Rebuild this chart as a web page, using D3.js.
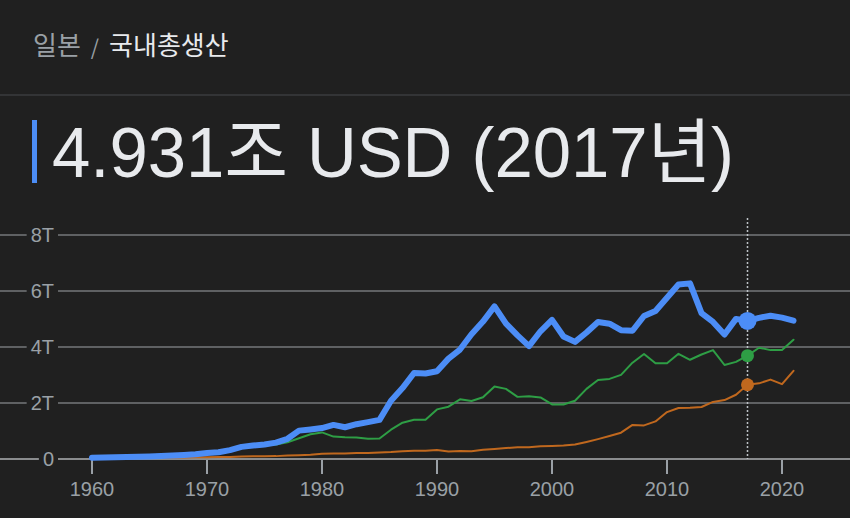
<!DOCTYPE html>
<html><head><meta charset="utf-8">
<script src="https://cdn.jsdelivr.net/npm/d3@7"></script>
<style>
html,body{margin:0;padding:0;background:#202020;}
svg{display:block;}
</style></head>
<body>
<svg id="c" width="850" height="518"></svg>
<script>
// ---- data (trillion USD) ----
const years = d3.range(1960, 2022);
const japan = [0.0443,0.0539,0.0608,0.0695,0.0818,0.0910,0.1056,0.1237,0.1469,0.1721,
0.2128,0.2404,0.3181,0.4326,0.4798,0.5210,0.5860,0.7214,1.0136,1.0553,
1.1054,1.2180,1.1348,1.2435,1.3183,1.3989,2.0785,2.5324,3.0719,3.0542,
3.1328,3.5842,3.9088,4.4545,4.9070,5.4492,4.8331,4.4146,4.0327,4.5621,
4.9683,4.3745,4.1827,4.5196,4.8932,4.8314,4.6014,4.5794,5.1061,5.2891,
5.7591,6.2333,6.2722,5.2123,4.8965,4.4449,5.0037,4.9310,5.0409,5.1179,
5.0501,4.9409];
const germanyYears = d3.range(1970, 2022);
const germany = [0.2151,0.2492,0.2997,0.3984,0.4454,0.4885,0.5175,0.5995,0.7400,0.8818,
0.9501,0.8003,0.7767,0.7706,0.7253,0.7325,1.0464,1.2976,1.4014,1.3983,
1.7716,1.8687,2.1316,2.0713,2.2059,2.5918,2.5037,2.2188,2.2436,2.1990,
1.9480,1.9454,2.0788,2.5054,2.8191,2.8614,3.0026,3.4399,3.7524,3.4183,
3.4171,3.7577,3.5440,3.7330,3.8898,3.3571,3.4690,3.6903,3.9744,3.8887,
3.8894,4.2599];
const india = [0.0370,0.0392,0.0422,0.0484,0.0565,0.0590,0.0458,0.0500,0.0531,0.0584,
0.0625,0.0673,0.0710,0.0851,0.0995,0.0987,0.1027,0.1217,0.1377,0.1529,
0.1862,0.1934,0.2005,0.2183,0.2124,0.2326,0.2485,0.2794,0.2969,0.2960,
0.3206,0.2703,0.2882,0.2790,0.3276,0.3602,0.3929,0.4159,0.4213,0.4589,
0.4683,0.4854,0.5149,0.6075,0.7090,0.8201,0.9403,1.2167,1.1990,1.3419,
1.6756,1.8230,1.8277,1.8567,2.0391,2.1036,2.2948,2.6515,2.7023,2.8356,
2.6718,3.1503];
const yTicks = [0, 2, 4, 6, 8];
const yTickLabels = ["0", "2T", "4T", "6T", "8T"];
const xTicks = [1960, 1970, 1980, 1990, 2000, 2010, 2020];
const highlightYear = 2017;
const breadcrumb = ["일본", "/", "국내총생산"];
const headline = "4.931조 USD (2017년)";

// ---- drawing ----
const svg = d3.select("#c");
const W = 850, H = 518;
const BG = "#202020";
const x = d3.scaleLinear().domain([1960, 2020]).range([92, 782]);
const y = d3.scaleLinear().domain([0, 8]).range([459, 235]);

// header
const hdr = svg.append("text").attr("x", 33).attr("y", 55)
  .attr("font-family", "'Noto Sans CJK KR', 'Noto Sans', sans-serif")
  .attr("font-size", 26);
hdr.append("tspan").attr("fill", "#9aa0a6").text(breadcrumb[0]);
hdr.append("tspan").attr("fill", "#9aa0a6").attr("dx", 10).attr("font-size", 21).text(breadcrumb[1]);
hdr.append("tspan").attr("fill", "#e8eaed").attr("dx", 10).text(breadcrumb[2]);

svg.append("rect").attr("x", 0).attr("y", 94).attr("width", W).attr("height", 2).attr("fill", "#333436");

// headline
svg.append("rect").attr("x", 32).attr("y", 120).attr("width", 5).attr("height", 63).attr("fill", "#4c8df6");
svg.append("text").attr("x", 52).attr("y", 177)
  .attr("font-family", "'Liberation Sans', Arial, 'Noto Sans CJK KR', sans-serif")
  .attr("font-size", 71).attr("fill", "#e8eaed")
  .attr("textLength", 682).attr("lengthAdjust", "spacingAndGlyphs")
  .text(headline);

// gridlines
const grid = svg.append("g");
grid.selectAll("line").data(yTicks).join("line")
  .attr("x1", 0).attr("x2", W)
  .attr("y1", d => y(d)).attr("y2", d => y(d))
  .attr("stroke", d => d === 0 ? "#8a8c8e" : "#5f6163").attr("stroke-width", 2);

// y labels with background
const yl = svg.append("g");
yTicks.forEach((t, i) => {
  const g = yl.append("g");
  const txt = g.append("text").attr("x", 54).attr("y", y(t)).attr("dy", "0.36em")
    .attr("text-anchor", "end")
    .attr("font-family", "'Liberation Sans', Arial, sans-serif")
    .attr("font-size", 20).attr("fill", "#9aa0a6").text(yTickLabels[i]);
  const bb = txt.node().getBBox();
  g.insert("rect", "text").attr("x", bb.x - 4).attr("y", y(t) - 3)
    .attr("width", bb.width + 8).attr("height", 6).attr("fill", BG);
});

// x ticks
const xa = svg.append("g");
xa.selectAll("line").data(xTicks).join("line")
  .attr("x1", d => x(d)).attr("x2", d => x(d))
  .attr("y1", 460).attr("y2", 474)
  .attr("stroke", "#9aa0a6").attr("stroke-width", 2);
xa.selectAll("text").data(xTicks).join("text")
  .attr("x", d => x(d)).attr("y", 496)
  .attr("text-anchor", "middle")
  .attr("font-family", "'Liberation Sans', Arial, sans-serif")
  .attr("font-size", 20).attr("fill", "#9aa0a6").text(d => d);

// highlight dotted line
svg.append("line").attr("x1", x(highlightYear)).attr("x2", x(highlightYear))
  .attr("y1", 218).attr("y2", 459)
  .attr("stroke", "#bdc1c6").attr("stroke-width", 1.5).attr("stroke-dasharray", "2,2");

const line = d3.line().x(d => x(d[0])).y(d => y(d[1]));
const mk = (ys, vs) => ys.map((yr, i) => [yr, vs[i]]);

const series = [
  {data: mk(years, india), color: "#c0681e", w: 2, r: 6.5},
  {data: mk(germanyYears, germany), color: "#2e9e45", w: 2, r: 6.5},
  {data: mk(years, japan), color: "#4c8df6", w: 6, r: 9}
];
series.forEach(s => {
  svg.append("path").datum(s.data).attr("d", line)
    .attr("fill", "none").attr("stroke", s.color).attr("stroke-width", s.w)
    .attr("stroke-linejoin", "round").attr("stroke-linecap", "round");
});
series.forEach(s => {
  const p = s.data.find(d => d[0] === highlightYear);
  svg.append("circle").attr("cx", x(p[0])).attr("cy", y(p[1])).attr("r", s.r).attr("fill", s.color);
});
</script>
</body></html>
